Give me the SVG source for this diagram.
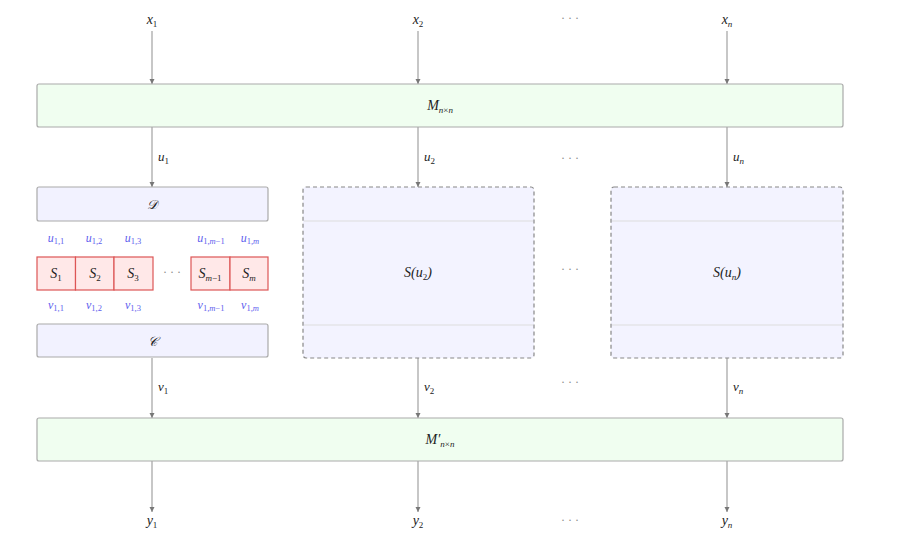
<svg xmlns="http://www.w3.org/2000/svg" width="900" height="545" viewBox="0 0 900 545">
<defs>
<marker id="ah" viewBox="0 0 6 6" refX="6" refY="3" markerWidth="5" markerHeight="5" orient="auto"><path d="M0,0 L6,3 L0,6 z" fill="#777"/></marker>
<style>
.t{font-family:"Liberation Serif","Times New Roman",serif;font-style:italic;font-size:14px;fill:#222;text-anchor:middle}
.s{font-size:9px}
.n{font-style:normal}
.b{fill:#6060ee}
.l{font-family:"Liberation Serif",serif;font-style:italic;font-size:13px;fill:#222}
.dot{font-family:"Liberation Serif",serif;font-size:12px;fill:#888;text-anchor:middle}
.green{fill:#f0fef0;stroke:#aaa;stroke-width:1.2}
.lav{fill:#f2f2ff;stroke:#aaa;stroke-width:1.2}
.dash{fill:#f3f3ff;stroke:#888;stroke-width:1.2;stroke-dasharray:4,3}
.sep{stroke:#ddd;stroke-width:1}
.red{fill:#ffe8e8;stroke:#dd5555;stroke-width:1.2}
.c{stroke:#999;stroke-width:1.1;fill:none;marker-end:url(#ah)}
.bs{font-size:12px}
.bs tspan{font-size:8.5px}
</style>
</defs>
<rect width="900" height="545" fill="#fff"/>
<g id="connectors">
<line class="c" x1="152" y1="31" x2="152" y2="84"/>
<line class="c" x1="418" y1="31" x2="418" y2="84"/>
<line class="c" x1="727" y1="31" x2="727" y2="84"/>
<line class="c" x1="152" y1="127" x2="152" y2="187"/>
<line class="c" x1="418" y1="127" x2="418" y2="187"/>
<line class="c" x1="727" y1="127" x2="727" y2="187"/>
<line class="c" x1="152" y1="358" x2="152" y2="418"/>
<line class="c" x1="418" y1="358" x2="418" y2="418"/>
<line class="c" x1="727" y1="358" x2="727" y2="418"/>
<line class="c" x1="152" y1="461" x2="152" y2="512"/>
<line class="c" x1="418" y1="461" x2="418" y2="512"/>
<line class="c" x1="727" y1="461" x2="727" y2="512"/>
</g>
<g id="inputs">
<text class="t" x="152" y="24">x<tspan class="s n" dy="3">1</tspan></text>
<text class="t" x="418" y="24">x<tspan class="s n" dy="3">2</tspan></text>
<text class="dot" x="570" y="22">· · ·</text>
<text class="t" x="727" y="24">x<tspan class="s" dy="3">n</tspan></text>
</g>
<g id="M">
<rect class="green" x="37" y="84" width="806" height="43" rx="2"/>
<text class="t" x="440" y="110">M<tspan class="s" dy="3">n<tspan class="n">×</tspan>n</tspan></text>
</g>
<g id="ulabels">
<text class="l" x="158" y="161">u<tspan class="s n" dy="3">1</tspan></text>
<text class="l" x="424" y="161">u<tspan class="s n" dy="3">2</tspan></text>
<text class="dot" x="570" y="162">· · ·</text>
<text class="l" x="733" y="161">u<tspan class="s" dy="3">n</tspan></text>
</g>
<g id="D">
<rect class="lav" x="37" y="187" width="231" height="34" rx="2"/>
<text class="t" x="152" y="209" style="font-family:'DejaVu Serif',serif;font-size:13px">𝒟</text>
</g>
<g id="uSub">
<text class="t b bs" x="56" y="242">u<tspan class="n" dy="2">1,1</tspan></text>
<text class="t b bs" x="94" y="242">u<tspan class="n" dy="2">1,2</tspan></text>
<text class="t b bs" x="133" y="242">u<tspan class="n" dy="2">1,3</tspan></text>
<text class="t b bs" x="211" y="242">u<tspan class="n" dy="2">1,<tspan style="font-style:italic">m</tspan>−1</tspan></text>
<text class="t b bs" x="250" y="242">u<tspan class="n" dy="2">1,<tspan style="font-style:italic">m</tspan></tspan></text>
</g>
<g id="Sboxes">
<rect class="red" x="37" y="257" width="38.5" height="33"/>
<rect class="red" x="75.5" y="257" width="38.5" height="33"/>
<rect class="red" x="114" y="257" width="39" height="33"/>
<rect class="red" x="191" y="257" width="39" height="33"/>
<rect class="red" x="230" y="257" width="38" height="33"/>
<text class="t" x="56" y="278">S<tspan class="s n" dy="3">1</tspan></text>
<text class="t" x="95" y="278">S<tspan class="s n" dy="3">2</tspan></text>
<text class="t" x="133" y="278">S<tspan class="s n" dy="3">3</tspan></text>
<text class="dot" x="172" y="276">· · ·</text>
<text class="t" x="210" y="278">S<tspan class="s" dy="3">m<tspan class="n">−1</tspan></tspan></text>
<text class="t" x="249" y="278">S<tspan class="s" dy="3">m</tspan></text>
</g>
<g id="vSub">
<text class="t b bs" x="56" y="309">v<tspan class="n" dy="2">1,1</tspan></text>
<text class="t b bs" x="94" y="309">v<tspan class="n" dy="2">1,2</tspan></text>
<text class="t b bs" x="133" y="309">v<tspan class="n" dy="2">1,3</tspan></text>
<text class="t b bs" x="211" y="309">v<tspan class="n" dy="2">1,<tspan style="font-style:italic">m</tspan>−1</tspan></text>
<text class="t b bs" x="250" y="309">v<tspan class="n" dy="2">1,<tspan style="font-style:italic">m</tspan></tspan></text>
</g>
<g id="C">
<rect class="lav" x="37" y="324" width="231" height="33" rx="2"/>
<text class="t" x="152" y="346" style="font-family:'DejaVu Serif',serif;font-size:13px">𝒞</text>
</g>
<g id="Su2">
<rect class="dash" x="303" y="187" width="231" height="171" rx="3"/>
<line class="sep" x1="304" y1="221" x2="533" y2="221"/>
<line class="sep" x1="304" y1="325" x2="533" y2="325"/>
<text class="t" x="418" y="277">S(u<tspan class="s n" dy="3">2</tspan><tspan dy="-3">)</tspan></text>
</g>
<text class="dot" x="570" y="273">· · ·</text>
<g id="Sun">
<rect class="dash" x="611" y="187" width="232" height="171" rx="3"/>
<line class="sep" x1="612" y1="221" x2="842" y2="221"/>
<line class="sep" x1="612" y1="325" x2="842" y2="325"/>
<text class="t" x="727" y="277">S(u<tspan class="s" dy="3">n</tspan><tspan dy="-3">)</tspan></text>
</g>
<g id="vlabels">
<text class="l" x="158" y="391">v<tspan class="s n" dy="3">1</tspan></text>
<text class="l" x="424" y="391">v<tspan class="s n" dy="3">2</tspan></text>
<text class="dot" x="570" y="386">· · ·</text>
<text class="l" x="733" y="391">v<tspan class="s" dy="3">n</tspan></text>
</g>
<g id="Mprime">
<rect class="green" x="37" y="418" width="806" height="43" rx="2"/>
<text class="t" x="440" y="444">M′<tspan class="s" dy="3">n<tspan class="n">×</tspan>n</tspan></text>
</g>
<g id="outputs">
<text class="t" x="152" y="525">y<tspan class="s n" dy="3">1</tspan></text>
<text class="t" x="418" y="525">y<tspan class="s n" dy="3">2</tspan></text>
<text class="dot" x="570" y="524">· · ·</text>
<text class="t" x="727" y="525">y<tspan class="s" dy="3">n</tspan></text>
</g>
</svg>
